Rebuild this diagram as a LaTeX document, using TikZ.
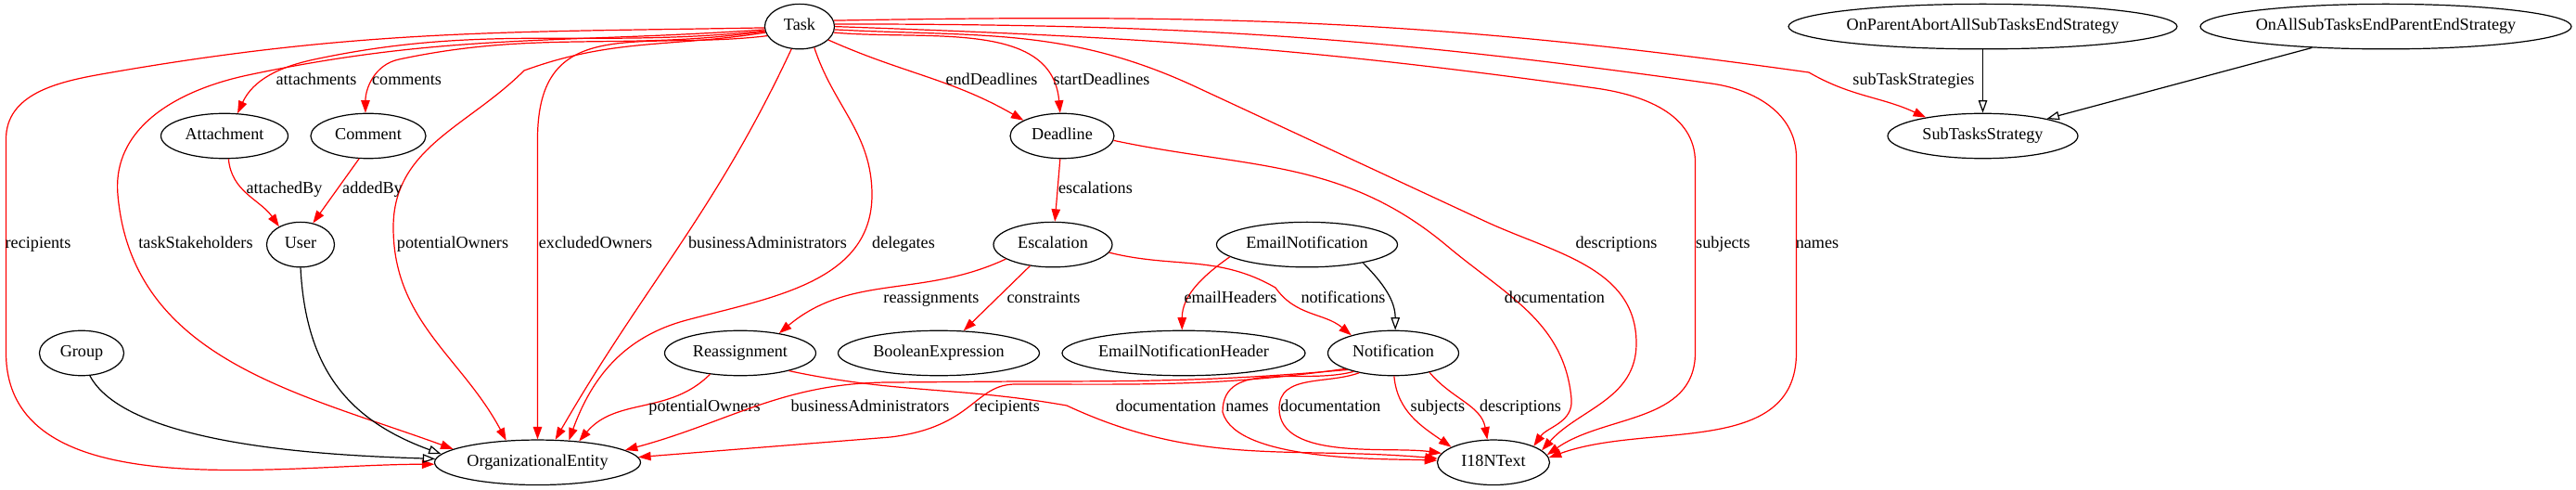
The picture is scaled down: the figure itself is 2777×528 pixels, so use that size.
\documentclass[tikz,border=0pt]{standalone}
\usepackage{fontspec}
\setmainfont{Liberation Serif}
\usepackage{tikz}
\usetikzlibrary{arrows.meta,shapes.geometric}
\definecolor{linkred}{HTML}{FF0000}
\tikzset{
  every node/.style={font=\fontsize{13.5}{16}\selectfont,text height=1.6ex,text depth=0.3ex},
  cls/.style={ellipse,draw=black,line width=0.9pt,minimum height=36pt,inner sep=0pt},
  rel/.style={-{Triangle[length=10pt,width=7pt]},line width=0.9pt,draw=linkred},
  isa/.style={-{Triangle[open,length=10pt,width=7pt]},line width=0.9pt,draw=black},
  lbl/.style={inner sep=1pt}
}

\begin{document}
\begin{tikzpicture}[x=0.7424pt,y=0.7424pt]
  \useasboundingbox (0,0) rectangle (2777,-528);
  % classes
  \node[cls,minimum width=55.7pt] (task) at (862,-28.6) {Task};
  \node[cls,minimum width=311pt] (parentAbort) at (2137.5,-28.6) {OnParentAbortAllSubTasksEndStrategy};
  \node[cls,minimum width=297pt] (allSubEnd) at (2572,-28.6) {OnAllSubTasksEndParentEndStrategy};
  \node[cls,minimum width=101.7pt] (attachment) at (242,-146.5) {Attachment};
  \node[cls,minimum width=92.1pt] (comment) at (397,-146.5) {Comment};
  \node[cls,minimum width=83.1pt] (deadline) at (1145,-146.5) {Deadline};
  \node[cls,minimum width=152.2pt] (subTasks) at (2137.5,-146.5) {SubTasksStrategy};
  \node[cls,minimum width=54.2pt] (user) at (324,-263.6) {User};
  \node[cls,minimum width=95pt] (escalation) at (1135,-263.6) {Escalation};
  \node[cls,minimum width=144.8pt] (emailNotif) at (1409,-263.6) {EmailNotification};
  \node[cls,minimum width=67.6pt] (group) at (88,-380.5) {Group};
  \node[cls,minimum width=121pt] (reassignment) at (798,-380.5) {Reassignment};
  \node[cls,minimum width=161.1pt] (boolExpr) at (1012,-380.5) {BooleanExpression};
  \node[cls,minimum width=194.5pt] (emailHeader) at (1276,-380.5) {EmailNotificationHeader};
  \node[cls,minimum width=104.7pt] (notification) at (1502,-380.5) {Notification};
  \node[cls,minimum width=164.8pt] (orgEntity) at (579.5,-498.3) {OrganizationalEntity};
  \node[cls,minimum width=89.8pt] (i18nText) at (1610,-498.3) {I18NText};

  % Task -> OrganizationalEntity
  \draw[rel] (task.182) to[out=181,in=10] (109,-80) to[out=190,in=90] (6.5,-150) -- (6.5,-380) to[out=-90,in=180,looseness=0.9] (orgEntity.181);
  \draw[rel] (task.185) to[out=184,in=12] (267,-81) to[out=192,in=95] (127,-210) to[out=-85,in=160] (orgEntity.171);
  \draw[rel] (task.190) to[out=189,in=20] (565,-76) to[out=225,in=90] (424,-245) to[out=-90,in=118] (orgEntity.145);
  \draw[rel] (task.196) to[out=187,in=90,looseness=1.3] (579.5,-150) -- (orgEntity.90);
  \draw[rel] (task.250) to[out=-115,in=60] (orgEntity.52);
  \draw[rel] (task.-55) to[out=-72,in=90] (940,-210) to[out=-90,in=15] (740,-345) to[out=195,in=70] (orgEntity.35);
  \node[lbl] (lRecipients) at (41,-263.6) {recipients};
  \node[lbl] (lStakeholders) at (211,-263.6) {taskStakeholders};
  \node[lbl] (lPotOwners) at (488,-263.6) {potentialOwners};
  \node[lbl] (lExclOwners) at (642,-263.6) {excludedOwners};
  \node[lbl] (lBusAdmins) at (827.5,-263.6) {businessAdministrators};
  \node[lbl] (lDelegates) at (974,-263.6) {delegates};

  % Task -> Attachment, Comment -> User
  \draw[rel] (task.187) to[out=186,in=12] (339,-64) to[out=192,in=65] (attachment.60);
  \draw[rel] (task.188) to[out=188,in=12] (430,-64) to[out=192,in=90] (comment.97);
  \draw[rel] (attachment.-80) to[out=-85,in=125] (user.140);
  \draw[rel] (comment.-112) -- (user.60);
  \draw[isa] (user.south) to[out=-87,in=160,looseness=1.1] (orgEntity.175);
  \draw[isa] (group.-70) to[out=-62,in=178,looseness=0.6] (orgEntity.178);
  \node[lbl] (lAttachments) at (341,-87.5) {attachments};
  \node[lbl] (lComments) at (438.5,-87.5) {comments};
  \node[lbl] (lAttachedBy) at (306.5,-204) {attachedBy};
  \node[lbl] (lAddedBy) at (401.5,-204) {addedBy};

  % Task -> Deadline -> Escalation
  \draw[rel] (task.-25) to[out=-24,in=150] (deadline.158);
  \draw[rel] (task.-10) to[out=-5,in=95] (deadline.95);
  \draw[rel] (deadline.-95) -- (escalation.85);
  \draw[rel] (deadline.-5) to[out=-12,in=140] (1560,-265) to[out=-40,in=95] (1694,-430) to[out=-85,in=55] (i18nText.22);
  \node[lbl] (lEndDeadlines) at (1069,-87.5) {endDeadlines};
  \node[lbl] (lStartDeadlines) at (1187.5,-87.5) {startDeadlines};
  \node[lbl] (lEscalations) at (1181,-204) {escalations};
  \node[lbl] (lDeadlineDoc) at (1676,-322.6) {documentation};

  % Task -> I18NText
  \draw[rel] (task.-5) to[out=-3,in=155] (1290,-94) -- (1600,-238) to[out=-25,in=90] (1764,-370) to[out=-90,in=48] (i18nText.14);
  \draw[rel] (task.0) to[out=-2,in=172] (1720,-95) to[out=-8,in=90] (1827.5,-175) -- (1827.5,-380) to[out=-90,in=35] (i18nText.8);
  \draw[rel] (task.4) to[out=0,in=172] (1845,-90) to[out=-8,in=90] (1936.5,-170) -- (1936.5,-380) to[out=-90,in=20] (i18nText.5);
  \node[lbl] (lDescriptions) at (1742.5,-263.6) {descriptions};
  \node[lbl] (lSubjects) at (1857.5,-263.6) {subjects};
  \node[lbl] (lNames) at (1959,-263.6) {names};

  % sub task strategies
  \draw[rel] (task.10) to[out=1,in=172] (1950,-78) to[out=-30,in=155] (subTasks.162);
  \draw[isa] (parentAbort.south) -- (subTasks.north);
  \draw[isa] (allSubEnd.-164) -- (subTasks.15);
  \node[lbl] (lSubTaskStrat) at (2063,-87.5) {subTaskStrategies};

  % Escalation
  \draw[rel] (escalation.-163) to[out=-155,in=40] (reassignment.27);
  \draw[rel] (escalation.-137) -- (boolExpr.42);
  \draw[rel] (escalation.-8) to[out=-14,in=150] (1375,-310) to[out=-55,in=140] (notification.157);
  \draw[rel] (emailNotif.-171) to[out=-145,in=90] (emailHeader.94);
  \draw[isa] (emailNotif.-18) to[out=-45,in=90] (notification.85);
  \node[lbl] (lReassignments) at (1004,-322.6) {reassignments};
  \node[lbl] (lConstraints) at (1125,-322.6) {constraints};
  \node[lbl] (lEmailHeaders) at (1326.5,-322.6) {emailHeaders};
  \node[lbl] (lNotifications) at (1448,-322.6) {notifications};

  % Reassignment
  \draw[rel] (reassignment.-145) to[out=-135,in=50] (orgEntity.27);
  \draw[rel] (reassignment.-20) to[out=-12,in=170] (1150,-437) to[out=-25,in=175] (i18nText.176);
  \node[lbl] (lReassPotOwners) at (759.5,-439.4) {potentialOwners};
  \node[lbl] (lReassDoc) at (1257,-439.4) {documentation};

  % Notification
  \draw[rel] (notification.-160) to[out=185,in=0] (1100,-411) -- (960,-412) to[out=180,in=15] (orgEntity.8);
  \draw[rel] (notification.-162) to[out=188,in=0] (1095,-414) .. controls (1050,-414) and (1050,-460) .. (960,-471) -- (orgEntity.3);
  \draw[rel] (notification.-155) to[out=195,in=90] (1318,-444) to[out=-75,in=178,looseness=0.6] (i18nText.178);
  \draw[rel] (notification.-150) to[out=200,in=90] (1379,-440) to[out=-90,in=172,looseness=0.8] (i18nText.170);
  \draw[rel] (notification.-88) to[out=-85,in=145] (i18nText.160);
  \draw[rel] (notification.-28) to[out=-50,in=100] (i18nText.105);
  \node[lbl] (lNotifBusAdmins) at (938,-439.4) {businessAdministrators};
  \node[lbl] (lNotifRecipients) at (1085.5,-439.4) {recipients};
  \node[lbl] (lNotifNames) at (1344.5,-439.4) {names};
  \node[lbl] (lNotifDoc) at (1434.5,-439.4) {documentation};
  \node[lbl] (lNotifSubjects) at (1550,-439.4) {subjects};
  \node[lbl] (lNotifDescr) at (1639,-439.4) {descriptions};
\end{tikzpicture}
\end{document}
